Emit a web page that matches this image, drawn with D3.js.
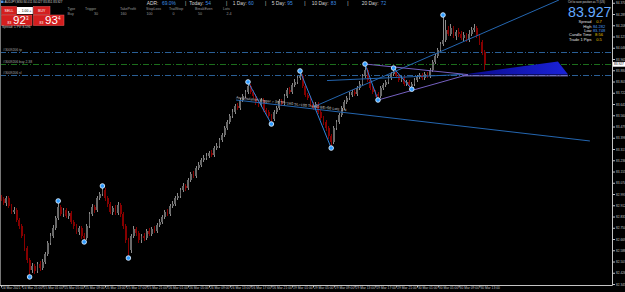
<!DOCTYPE html>
<html>
<head>
<meta charset="utf-8">
<script src="https://cdn.jsdelivr.net/npm/d3@7"></script>
<style>
  body { margin: 0; background: #000; }
  svg { display: block; font-family: "Liberation Sans", Arial, sans-serif; }
</style>
</head>
<body>
<div id="chart"></div>
<script>
// AUDJPY M30 candles, bar 0 = 24 Mar 17:00 (open of each bar = previous close)
const firstOpen = 82.972;
const closes = [
  82.957, 82.928, 82.964, 82.907, 82.864, 82.878, 82.806, 82.763, 82.691, 82.604,
  82.518, 82.446, 82.475, 82.439, 82.489, 82.460, 82.504, 82.561, 82.640, 82.691,
  82.748, 82.820, 82.900, 82.849, 82.878, 82.835, 82.856, 82.792, 82.763, 82.720,
  82.748, 82.691, 82.676, 82.763, 82.849, 82.900, 82.878, 82.964, 82.993, 83.022,
  82.964, 82.921, 82.864, 82.892, 82.856, 82.914, 82.849, 82.763, 82.662, 82.590,
  82.691, 82.741, 82.712, 82.662, 82.691, 82.676, 82.727, 82.705, 82.741, 82.727,
  82.770, 82.792, 82.828, 82.864, 82.849, 82.907, 82.921, 82.964, 82.979, 83.022,
  83.051, 83.036, 83.094, 83.137, 83.123, 83.180, 83.202, 83.238, 83.252, 83.267,
  83.288, 83.274, 83.324, 83.339, 83.382, 83.418, 83.468, 83.512, 83.555, 83.584,
  83.627, 83.612, 83.670, 83.699, 83.728, 83.771, 83.728, 83.699, 83.656, 83.634,
  83.670, 83.598, 83.584, 83.555, 83.533, 83.584, 83.612, 83.663, 83.641, 83.699,
  83.742, 83.728, 83.778, 83.800, 83.828, 83.843, 83.771, 83.706, 83.684, 83.641,
  83.612, 83.641, 83.584, 83.540, 83.512, 83.468, 83.411, 83.368, 83.468, 83.512,
  83.562, 83.612, 83.656, 83.684, 83.706, 83.728, 83.713, 83.756, 83.785, 83.843,
  83.886, 83.814, 83.756, 83.728, 83.713, 83.699, 83.756, 83.778, 83.800, 83.828,
  83.857, 83.872, 83.843, 83.814, 83.828, 83.785, 83.800, 83.771, 83.785, 83.814,
  83.836, 83.850, 83.828, 83.857, 83.843, 83.886, 83.944, 83.987, 84.030, 84.073,
  84.102, 84.174, 84.145, 84.188, 84.131, 84.160, 84.145, 84.116, 84.138, 84.102,
  84.145, 84.174, 84.188, 84.131, 84.088, 84.016, 83.927
];
const highs = [
  82.986, 82.972, 82.979, 82.979, 82.921, 82.900, 82.892, 82.820, 82.777, 82.705,
  82.619, 82.532, 82.496, 82.489, 82.504, 82.511, 82.525, 82.576, 82.655, 82.712,
  82.770, 82.835, 82.943, 82.914, 82.892, 82.892, 82.871, 82.871, 82.806, 82.777,
  82.763, 82.763, 82.712, 82.777, 82.864, 82.921, 82.914, 82.979, 83.008, 83.051,
  83.036, 82.979, 82.936, 82.907, 82.914, 82.936, 82.928, 82.864, 82.777, 82.676,
  82.705, 82.763, 82.756, 82.727, 82.705, 82.712, 82.741, 82.748, 82.756, 82.763,
  82.784, 82.813, 82.842, 82.878, 82.885, 82.921, 82.943, 82.979, 83.000, 83.036,
  83.072, 83.065, 83.108, 83.152, 83.159, 83.195, 83.224, 83.252, 83.274, 83.288,
  83.303, 83.310, 83.339, 83.360, 83.396, 83.432, 83.483, 83.526, 83.569, 83.605,
  83.641, 83.648, 83.684, 83.713, 83.742, 83.800, 83.785, 83.742, 83.713, 83.670,
  83.684, 83.684, 83.612, 83.598, 83.569, 83.598, 83.627, 83.677, 83.677, 83.713,
  83.756, 83.764, 83.792, 83.821, 83.843, 83.879, 83.857, 83.785, 83.720, 83.699,
  83.656, 83.656, 83.656, 83.598, 83.555, 83.526, 83.483, 83.425, 83.483, 83.526,
  83.576, 83.627, 83.670, 83.699, 83.728, 83.742, 83.749, 83.771, 83.807, 83.857,
  83.929, 83.900, 83.828, 83.771, 83.742, 83.728, 83.771, 83.792, 83.814, 83.843,
  83.872, 83.900, 83.886, 83.857, 83.843, 83.843, 83.814, 83.814, 83.800, 83.828,
  83.850, 83.864, 83.864, 83.872, 83.872, 83.900, 83.958, 84.001, 84.044, 84.088,
  84.282, 84.246, 84.203, 84.216, 84.203, 84.174, 84.188, 84.167, 84.160, 84.152,
  84.174, 84.196, 84.216, 84.203, 84.145, 84.102, 84.030
];
const lows = [
  82.943, 82.914, 82.907, 82.892, 82.849, 82.849, 82.792, 82.741, 82.676, 82.583,
  82.496, 82.396, 82.424, 82.417, 82.424, 82.439, 82.446, 82.489, 82.547, 82.626,
  82.676, 82.734, 82.806, 82.835, 82.828, 82.820, 82.813, 82.777, 82.741, 82.705,
  82.698, 82.669, 82.648, 82.662, 82.748, 82.835, 82.856, 82.864, 82.950, 82.979,
  82.943, 82.900, 82.849, 82.842, 82.842, 82.842, 82.828, 82.741, 82.640, 82.532,
  82.568, 82.676, 82.691, 82.640, 82.640, 82.655, 82.662, 82.691, 82.691, 82.712,
  82.712, 82.756, 82.777, 82.813, 82.835, 82.835, 82.892, 82.907, 82.950, 82.964,
  83.008, 83.015, 83.022, 83.080, 83.108, 83.108, 83.166, 83.188, 83.224, 83.238,
  83.252, 83.260, 83.260, 83.310, 83.324, 83.368, 83.404, 83.454, 83.497, 83.540,
  83.569, 83.598, 83.598, 83.656, 83.684, 83.713, 83.713, 83.684, 83.634, 83.620,
  83.620, 83.584, 83.562, 83.540, 83.497, 83.519, 83.569, 83.598, 83.627, 83.627,
  83.684, 83.713, 83.713, 83.764, 83.785, 83.814, 83.756, 83.692, 83.670, 83.627,
  83.598, 83.598, 83.569, 83.526, 83.490, 83.447, 83.389, 83.324, 83.353, 83.454,
  83.497, 83.548, 83.598, 83.641, 83.670, 83.692, 83.699, 83.699, 83.742, 83.771,
  83.828, 83.800, 83.742, 83.713, 83.692, 83.670, 83.684, 83.742, 83.764, 83.785,
  83.814, 83.843, 83.828, 83.800, 83.800, 83.771, 83.771, 83.756, 83.748, 83.771,
  83.800, 83.821, 83.814, 83.814, 83.828, 83.828, 83.872, 83.929, 83.972, 84.016,
  84.059, 84.088, 84.131, 84.131, 84.116, 84.102, 84.124, 84.102, 84.095, 84.088,
  84.088, 84.131, 84.160, 84.116, 84.066, 83.994, 83.886
];

// time axis: one label every 8 bars
const timeLabelBars = d3.range(0, 185, 8);
const timeLabels = [
  "24 Mar 2021", "24 Mar 21:00", "25 Mar 01:00", "25 Mar 05:00", "25 Mar 09:00", "25 Mar 13:00",
  "25 Mar 17:00", "25 Mar 21:00", "26 Mar 01:00", "26 Mar 05:00", "26 Mar 09:00", "26 Mar 13:00",
  "26 Mar 17:00", "26 Mar 21:00", "29 Mar 01:00", "29 Mar 05:00", "29 Mar 09:00", "29 Mar 13:00",
  "29 Mar 17:00", "29 Mar 21:00", "30 Mar 01:00", "30 Mar 05:00", "30 Mar 09:00", "30 Mar 13:00"
];
const priceTicks = [
  82.345, 82.426, 82.507, 82.588, 82.669, 82.750, 82.831, 82.912, 82.993, 83.074,
  83.155, 83.236, 83.317, 83.398, 83.479, 83.560, 83.641, 83.722, 83.803, 83.884,
  83.965, 84.046, 84.127, 84.208, 84.289, 84.370
];
const lastPrice = 83.927;

// zigzag pivots (bar index, price)
const pivotBars = [11, 22, 32, 39, 49, 95, 104, 115, 127, 140, 145, 151, 158, 170];
const pivotPrices = [82.396, 82.943, 82.648, 83.051, 82.532, 83.800, 83.497, 83.879, 83.324, 83.929, 83.670, 83.900, 83.748, 84.282];

// drawn objects: [bar1, price1, bar2, price2]
const zigzagSegs = [[95, 83.800, 104, 83.497], [115, 83.879, 127, 83.324], [140, 83.929, 145, 83.670], [151, 83.900, 158, 83.748]];
const trendLines = [[90.4, 83.670, 226.5, 83.375], [121, 83.627, 214.6, 84.390], [125.4, 83.810, 177.7, 83.854]];
const channelLines = [[140, 83.929, 179.6, 83.853], [145, 83.670, 179.6, 83.853]];
const wedgePoints = [[177.7, 83.854], [214.2, 83.947], [218.1, 83.854]];
const wedgeBase = [177.7, 218.1, 83.844];

// order lines
const orderPrices = [84.013, 83.930, 83.850];
const orderLabels = ["#3009206 tp", "#3009206 buy 2.38", "#3009206 sl"];
const accumText = "Accumulation Trigger = 30 TP=160 SL=100 Trail=0 BE=50 Lots: 2.4";

// info panels
const adrLabels = ["ADR:", "Today:", "1 Day:", "5 Day:", "10 Day:", "20 Day:"];
const adrValues = ["69.0%", "54", "60", "95", "83", "72"];
const tableHeaders = ["Type", "Trigger", "TakeProfit", "StopLoss", "TrailStop", "BreakEven", "Lots"];
const tableValues = ["Buy", "30", "160", "100", "0", "50", "2.4"];
const statLabels = ["Spread", "High", "Low", "Candle Time", "Trade 1 Pips"];
const statValues = ["0.7", "84.282", "83.748", "8:56", "0.5"];

const W = 625, H = 292;
const plotRight = 612, plotBottom = 285;

const x = d3.scaleLinear().domain([0, 1]).range([1, 3.6]);          // 2.6px per bar
const y = d3.scaleLinear().domain([82.338, 84.390]).range([plotBottom, 0]);

const svg = d3.select("#chart").append("svg")
    .attr("width", W)
    .attr("height", H);

svg.append("rect").attr("width", W).attr("height", H).attr("fill", "#000");

const defs = svg.append("defs");
defs.append("clipPath").attr("id", "plotClip")
  .append("rect").attr("x", 0).attr("y", 0).attr("width", plotRight).attr("height", plotBottom);
const grad = defs.append("linearGradient").attr("id", "wedgeGrad");
grad.append("stop").attr("offset", "0%").attr("stop-color", "#0a0a8c");
grad.append("stop").attr("offset", "100%").attr("stop-color", "#1a22d8");

const plot = svg.append("g").attr("clip-path", "url(#plotClip)");

// horizontal order lines
const orderColors = ["#2a5f96", "#1c6e1c", "#2a5f96"];
orderPrices.forEach((p, i) => {
    plot.append("line")
        .attr("x1", 0).attr("x2", plotRight)
        .attr("y1", Math.round(y(p)) + 0.5).attr("y2", Math.round(y(p)) + 0.5)
        .attr("stroke", orderColors[i])
        .attr("stroke-width", 1)
        .attr("stroke-dasharray", "6,2,1,2");
    plot.append("text")
        .attr("x", 3).attr("y", y(p) - 1.2)
        .attr("font-size", 3.4)
        .attr("fill", "#a8a8a8")
        .text(orderLabels[i]);
});

// candles
const bars = closes.map((c, i) => ({ i, o: i === 0 ? firstOpen : closes[i - 1], h: highs[i], l: lows[i], c }));
const bull = "#8c8c8c", bear = "#860000";
const cg = plot.append("g").attr("shape-rendering", "crispEdges");
cg.selectAll("line").data(bars).join("line")
    .attr("x1", d => x(d.i)).attr("x2", d => x(d.i))
    .attr("y1", d => y(d.h)).attr("y2", d => y(d.l))
    .attr("stroke", d => d.c >= d.o ? bull : bear)
    .attr("stroke-width", 1);
cg.selectAll("rect").data(bars).join("rect")
    .attr("x", d => x(d.i) - 0.9)
    .attr("width", 1.8)
    .attr("y", d => y(Math.max(d.o, d.c)))
    .attr("height", d => Math.max(1, Math.abs(y(d.o) - y(d.c))))
    .attr("fill", d => d.c >= d.o ? "#6a6a6a" : bear);

// wedge fill
plot.append("path")
    .attr("d", d3.line().x(d => x(d[0])).y(d => y(d[1]))(wedgePoints) + "Z")
    .attr("fill", "url(#wedgeGrad)");
plot.append("line")
    .attr("x1", x(wedgeBase[0])).attr("x2", x(wedgeBase[1]))
    .attr("y1", y(wedgeBase[2])).attr("y2", y(wedgeBase[2]))
    .attr("stroke", "#8a7ad8").attr("stroke-width", 1);

const seg = (g, data, color) => g.selectAll(null).data(data).join("line")
    .attr("x1", d => x(d[0])).attr("y1", d => y(d[1]))
    .attr("x2", d => x(d[2])).attr("y2", d => y(d[3]))
    .attr("stroke", color).attr("stroke-width", 1);

seg(plot, trendLines, "#2466b0");
seg(plot, channelLines, "#7560c0");
seg(plot, zigzagSegs, "#2f80d8");

// accumulation label along the falling trend line
const tl = trendLines[0];
const ang = Math.atan2(y(tl[3]) - y(tl[1]), x(tl[2]) - x(tl[0])) * 180 / Math.PI;
plot.append("text")
    .attr("transform", `translate(${x(tl[0])},${y(tl[1]) - 1.5}) rotate(${ang})`)
    .attr("font-size", 3.6)
    .attr("fill", "#d8d8d8")
    .attr("textLength", 111)
    .attr("lengthAdjust", "spacingAndGlyphs")
    .text(accumText);

// pivot markers
plot.selectAll(".pivot").data(pivotBars).join("circle")
    .attr("class", "pivot")
    .attr("cx", d => x(d))
    .attr("cy", (d, i) => y(pivotPrices[i]))
    .attr("r", 2.3)
    .attr("fill", "#2e9bff")
    .attr("stroke", "#d8ecff")
    .attr("stroke-width", 0.9);

// axes
const axisColor = "#c4c4c4";
svg.append("line").attr("x1", plotRight + 0.5).attr("x2", plotRight + 0.5).attr("y1", 0).attr("y2", plotBottom + 0.5)
    .attr("stroke", axisColor);
svg.append("line").attr("x1", 0).attr("x2", plotRight + 0.5).attr("y1", plotBottom + 0.5).attr("y2", plotBottom + 0.5)
    .attr("stroke", axisColor);
svg.append("line").attr("x1", 0.5).attr("x2", 0.5).attr("y1", 0).attr("y2", plotBottom)
    .attr("stroke", "#777");

svg.append("g")
    .attr("transform", `translate(${plotRight + 0.5},0)`)
    .call(d3.axisRight(y).tickValues(priceTicks).tickSize(2.5).tickFormat(d3.format(".3f")))
    .attr("font-size", 3.2)
    .attr("font-family", "Liberation Sans, Arial, sans-serif")
    .call(g => g.select(".domain").remove())
    .call(g => g.selectAll("line").attr("stroke", axisColor))
    .call(g => g.selectAll("text").attr("fill", axisColor).attr("x", 3.5));

svg.append("g")
    .attr("transform", `translate(0,${plotBottom + 0.5})`)
    .call(d3.axisBottom(x).tickValues(timeLabelBars).tickSize(2).tickFormat((d, i) => timeLabels[i]))
    .attr("font-size", 3.3)
    .attr("font-family", "Liberation Sans, Arial, sans-serif")
    .call(g => g.select(".domain").remove())
    .call(g => g.selectAll("line").attr("stroke", axisColor))
    .call(g => g.selectAll("text").attr("fill", axisColor).attr("text-anchor", "start").attr("x", 0.5).attr("y", 1.2));

// last price box on the price scale
const ly = y(lastPrice);
svg.append("rect").attr("x", plotRight + 1).attr("y", ly - 2.4).attr("width", 12).attr("height", 4.8).attr("fill", "#fff");
svg.append("text").attr("x", plotRight + 2).attr("y", ly + 1.1).attr("font-size", 3.2).attr("fill", "#000")
    .text(lastPrice.toFixed(3));

// ---- top-left trade panel ----
const panel = svg.append("g");
panel.append("rect").attr("x", 1).attr("y", 0.5).attr("width", 2.5).attr("height", 2.5).attr("fill", "#4a90e2");
panel.append("text").attr("x", 4.5).attr("y", 3.2).attr("font-size", 3).attr("fill", "#d0d0d0")
    .text("AUDJPY,M30  84.011 84.027 83.851 83.927");

const red = "#d41e1e";
panel.append("rect").attr("x", 1.5).attr("y", 6.5).attr("width", 15).attr("height", 8).attr("fill", red).attr("stroke", "#f06060").attr("stroke-width", 0.5);
panel.append("text").attr("x", 9).attr("y", 11.7).attr("text-anchor", "middle").attr("font-size", 3.6).attr("fill", "#fff").text("SELL");
panel.append("rect").attr("x", 17).attr("y", 7).attr("width", 15.8).attr("height", 7).attr("fill", "#fff");
panel.append("text").attr("x", 18.5).attr("y", 11.7).attr("font-size", 3.6).attr("fill", "#000").text("-");
panel.append("text").attr("x", 25).attr("y", 11.7).attr("text-anchor", "middle").attr("font-size", 3.4).attr("fill", "#000").text("1.00");
panel.append("text").attr("x", 31.3).attr("y", 11.7).attr("text-anchor", "end").attr("font-size", 3.6).attr("fill", "#000").text("+");
panel.append("rect").attr("x", 33.5).attr("y", 6.5).attr("width", 16.5).attr("height", 8).attr("fill", red).attr("stroke", "#f06060").attr("stroke-width", 0.5);
panel.append("text").attr("x", 41.7).attr("y", 11.7).attr("text-anchor", "middle").attr("font-size", 3.6).attr("fill", "#fff").text("BUY");

[["83", "92", "3", 1.5], ["83", "93", "4", 33.5]].forEach(([pre, big, sup, bx]) => {
    panel.append("rect").attr("x", bx).attr("y", 15).attr("width", 30.5).attr("height", 10.5).attr("fill", red).attr("stroke", "#f06060").attr("stroke-width", 0.5);
    panel.append("text").attr("x", bx + 6).attr("y", 23.5).attr("font-size", 3.4).attr("fill", "#fff").text(pre);
    panel.append("text").attr("x", bx + 11.5).attr("y", 24).attr("font-size", 11.5).attr("fill", "#fff").text(big);
    panel.append("text").attr("x", bx + 24.5).attr("y", 20).attr("font-size", 4.5).attr("fill", "#fff").text(sup);
});
panel.append("text").attr("x", 2).attr("y", 28.3).attr("font-size", 3.2).attr("fill", "#c8c8c8").text("Spread: 1   PV: 8.596");

// table of pending trigger settings
const headerX = [67.5, 85, 120, 146, 169, 195, 223];
const valueX = [67.5, 94, 120.5, 146.5, 172.5, 198, 226.5];
tableHeaders.forEach((t, i) => {
    svg.append("text").attr("x", headerX[i]).attr("y", 9.6).attr("font-size", 3.6).attr("fill", "#9c9c9c").text(t);
    svg.append("text").attr("x", valueX[i]).attr("y", 14.8).attr("font-size", 3.6).attr("fill", "#9c9c9c").text(tableValues[i]);
});

// ADR line
const adrLabelX = [146.7, 189.3, 232.7, 271.7, 311.7, 361.7];
const adrValueX = [162, 205.5, 248.3, 287.3, 330.7, 380.7];
const sepX = [185, 226, 265, 304.3, 347.3];
adrLabels.forEach((t, i) => {
    svg.append("text").attr("x", adrLabelX[i]).attr("y", 5.4).attr("font-size", 4.9).attr("fill", "#d8d8d8").text(t);
    svg.append("text").attr("x", adrValueX[i]).attr("y", 5.4).attr("font-size", 4.9).attr("fill", "#3d8fe6").text(adrValues[i]);
});
sepX.forEach(sx => {
    svg.append("text").attr("x", sx).attr("y", 5.4).attr("font-size", 4.9).attr("fill", "#d8d8d8").text("|");
});

// right info panel
svg.append("text").attr("x", 568).attr("y", 3.1).attr("font-size", 3).attr("fill", "#d8d8d8")
    .attr("textLength", 37).attr("lengthAdjust", "spacingAndGlyphs")
    .text("Ctrl to save position as TI (US)");
svg.append("text").attr("x", 568).attr("y", 16.5).attr("font-size", 14).attr("fill", "#63a9ff")
    .attr("textLength", 43.5).attr("lengthAdjust", "spacingAndGlyphs")
    .text(lastPrice.toFixed(3));
const statY = [23.2, 27.6, 32, 36.4, 40.8];
const statColors = ["#e6c200", "#4a9af0", "#4a9af0", "#e6c200", "#e6c200"];
statLabels.forEach((t, i) => {
    svg.append("text").attr("x", 591.5).attr("y", statY[i]).attr("text-anchor", "end").attr("font-size", 4).attr("fill", "#e0e0e0").text(t);
    svg.append("text").attr("x", 599).attr("y", statY[i]).attr("text-anchor", "middle").attr("font-size", 4).attr("fill", statColors[i]).text(statValues[i]);
});
</script>
</body>
</html>
